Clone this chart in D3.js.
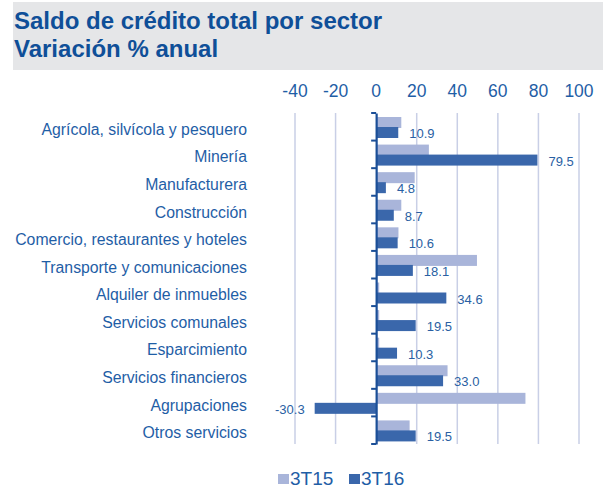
<!DOCTYPE html>
<html>
<head>
<meta charset="utf-8">
<style>
  body { margin: 0; background: #fff; }
  svg { display: block; font-family: "Liberation Sans", Arial, sans-serif; }
  .grid line { stroke: #c9cfe6; stroke-width: 1.5px; }
  .cat { fill: #1f5ea6; font-size: 15.8px; }
  .val { fill: #2a5fa3; font-size: 13px; }
</style>
</head>
<body>
<svg id="chart" width="605" height="489"></svg>
<script src="https://d3js.org/d3.v7.min.js"></script>
<script>
// data
var sectors = [
  "Agrícola, silvícola y pesquero",
  "Minería",
  "Manufacturera",
  "Construcción",
  "Comercio, restaurantes y hoteles",
  "Transporte y comunicaciones",
  "Alquiler de inmuebles",
  "Servicios comunales",
  "Esparcimiento",
  "Servicios financieros",
  "Agrupaciones",
  "Otros servicios"
];
var serie3T15 = [12.4, 26.0, 19.0, 12.4, 11.0, 49.7, 1.5, 1.5, 1.5, 35.2, 73.6, 16.5];
var serie3T16 = [10.9, 79.5, 4.8, 8.7, 10.6, 18.1, 34.6, 19.5, 10.3, 33.0, -30.3, 19.5];
var seriesNames = ["3T15", "3T16"];
var xTicks = [-40, -20, 0, 20, 40, 60, 80, 100];

var colors = { "3T15": "#a9b5da", "3T16": "#3a67ab" };
var svg = d3.select("#chart");

// title block
svg.append("rect")
  .attr("x", 13).attr("y", 2)
  .attr("width", 590).attr("height", 68)
  .attr("fill", "#e5e6e8");
svg.append("text")
  .attr("x", 14).attr("y", 29)
  .attr("font-size", "24px").attr("font-weight", "bold")
  .attr("fill", "#0f4f98")
  .text("Saldo de crédito total por sector");
svg.append("text")
  .attr("x", 14).attr("y", 57)
  .attr("font-size", "24px").attr("font-weight", "bold")
  .attr("fill", "#0f4f98")
  .text("Variación % anual");

var x = d3.scaleLinear().domain([-40, 100]).range([295, 579]);
var y = d3.scaleBand().domain(sectors).range([113, 444]);
var yInner = d3.scaleBand().domain(seriesNames).range([4, 24]);

// vertical gridlines
svg.append("g").attr("class", "grid")
  .selectAll("line")
  .data(xTicks.filter(t => t !== 0))
  .enter().append("line")
  .attr("x1", d => x(d)).attr("x2", d => x(d))
  .attr("y1", 113).attr("y2", 444);

// top tick labels
svg.append("g")
  .selectAll("text")
  .data(xTicks)
  .enter().append("text")
  .attr("x", d => x(d))
  .attr("y", 97)
  .attr("text-anchor", "middle")
  .attr("font-size", "17.5px")
  .attr("fill", "#1f5ea6")
  .text(d => d);

// bars
var rows = sectors.map((s, i) => ({ sector: s, "3T15": serie3T15[i], "3T16": serie3T16[i] }));

seriesNames.forEach(function (name) {
  svg.append("g")
    .selectAll("rect")
    .data(rows)
    .enter().append("rect")
    .attr("x", d => x(Math.min(0, d[name])))
    .attr("width", d => Math.abs(x(d[name]) - x(0)))
    .attr("y", d => y(d.sector) + yInner(name))
    .attr("height", yInner.bandwidth() + 1)
    .attr("fill", colors[name]);
});

// value labels for 3T16
svg.append("g")
  .selectAll("text")
  .data(rows)
  .enter().append("text")
  .attr("class", "val")
  .attr("x", d => d["3T16"] >= 0 ? x(d["3T16"]) + 11 : x(d["3T16"]) - 10)
  .attr("y", d => y(d.sector) + yInner("3T16") + yInner.bandwidth() / 2 + 6)
  .attr("text-anchor", d => d["3T16"] >= 0 ? "start" : "end")
  .text(d => d["3T16"].toFixed(1));

// category axis at zero
var yAxis = d3.axisLeft(y).tickSize(0).tickFormat("");
var ag = svg.append("g").attr("transform", "translate(" + x(0) + ",0)").call(yAxis);
ag.select(".domain").attr("stroke", "#1b4f97").attr("stroke-width", 2.2);
ag.selectAll(".tick").remove();
ag.selectAll(".sep")
  .data(sectors.concat(["end"]))
  .enter().append("line")
  .attr("x1", -5).attr("x2", 0)
  .attr("y1", (d, i) => i < sectors.length ? y(d) : y.range()[1])
  .attr("y2", (d, i) => i < sectors.length ? y(d) : y.range()[1])
  .attr("stroke", "#1b4f97").attr("stroke-width", 2);

// category labels
svg.append("g")
  .selectAll("text")
  .data(sectors)
  .enter().append("text")
  .attr("class", "cat")
  .attr("x", 247)
  .attr("y", d => y(d) + y.bandwidth() / 2 + 8)
  .attr("text-anchor", "end")
  .text(d => d);

// legend
var legend = svg.append("g");
var legendX = [278, 349];
seriesNames.forEach(function (name, i) {
  legend.append("rect")
    .attr("x", legendX[i]).attr("y", 474)
    .attr("width", 11).attr("height", 10)
    .attr("fill", colors[name]);
  legend.append("text")
    .attr("x", legendX[i] + 12).attr("y", 485)
    .attr("font-size", "19px")
    .attr("fill", "#1f5ea6")
    .text(name);
});
</script>
</body>
</html>
